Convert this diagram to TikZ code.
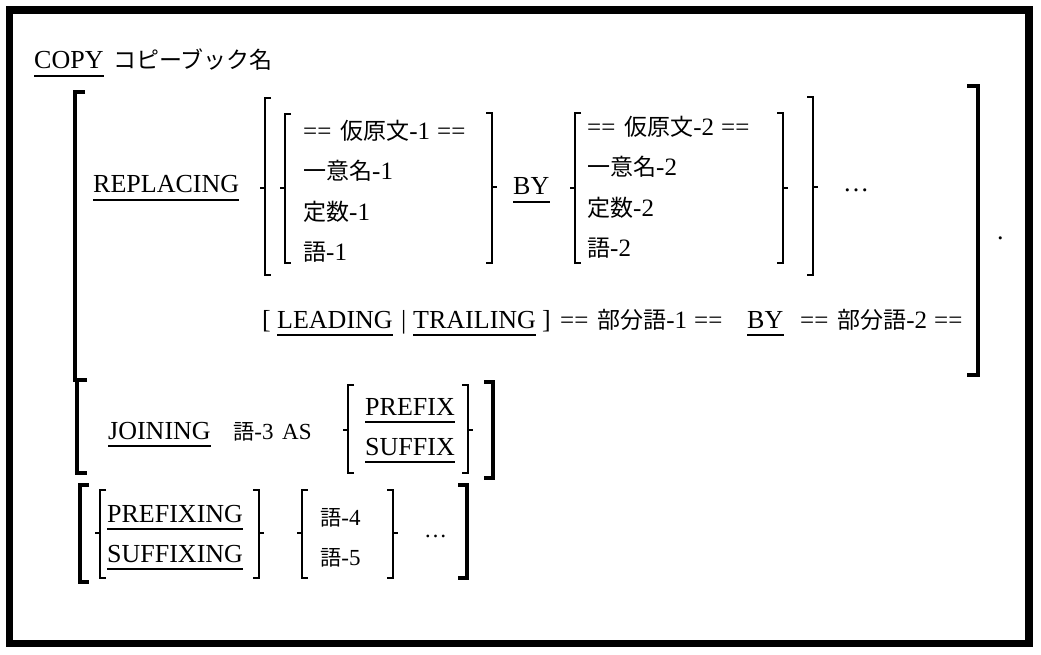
\documentclass[tikz,border=0pt]{standalone}
\usepackage{fontspec}
\setmainfont{Liberation Serif}
\newfontfamily\jpfont[Scale=0.92]{Noto Sans CJK JP}
\newcommand\J[1]{{\jpfont #1}}
\newcommand\LB[4]{\draw[brk] (#1+#4,#2) -- (#1,#2) -- (#1,#3) -- (#1+#4,#3);}
\newcommand\RB[4]{\draw[brk] (#1-#4,#2) -- (#1,#2) -- (#1,#3) -- (#1-#4,#3);}
\newcommand\LT[2]{\draw[brk] (#1,#2) -- (#1-5,#2);}
\newcommand\RT[2]{\draw[brk] (#1,#2) -- (#1+5,#2);}
\newcommand\UL[1]{\draw[ul] ([yshift=-7pt]#1.base west) -- ([yshift=-7pt]#1.base east);}
\newcommand\EQA{==\hspace{9pt}}
\newcommand\EQB{\hspace{7pt}==}
\tikzset{
  brk/.style={line width=2.6pt, line join=miter},
  lat/.style={inner sep=0pt, anchor=base west, font=\fontsize{26}{31}\selectfont},
  mix/.style={inner sep=0pt, anchor=base west, font=\fontsize{25}{30}\selectfont},
  sml/.style={inner sep=0pt, anchor=base west, font=\fontsize{23}{28}\selectfont},
  ul/.style={line width=1.3pt},
}
\begin{document}
\begin{tikzpicture}[x=1pt,y=-1pt]
\fill[white] (0,0) rectangle (1041,655);
\useasboundingbox (0,0) rectangle (1041,655);
\draw[line width=7.5pt] (9.5,10) rectangle (1029,643.5);

% COPY line
\node[lat] (copy) at (34,69) {COPY};
\UL{copy}
\node[mix] (cname) at (113,69) {\J{コピーブック名}};

% big outer brackets
\begin{scope}[brk/.append style={line width=3.2pt}]
\LB{75}{92}{380}{10}
\RB{978}{86}{375}{11}
\end{scope}

% REPLACING
\node[lat] (rep) at (93,193) {REPLACING};
\UL{rep}

% group brackets
\LB{265}{98}{275}{6}\LT{265}{188}
\LB{285}{114}{263}{6}\LT{285}{188}
\RB{492}{113}{263}{6}\RT{492}{187}
\LB{575}{113}{263}{6}\LT{575}{188}
\RB{783}{113}{263}{6}\RT{783}{188}
\RB{813}{97}{275}{6}\RT{813}{187}

\node[mix] (a1) at (303,140) {\EQA\J{仮原文}-1\EQB};
\node[mix] (a2) at (303,180) {\J{一意名}-1};
\node[mix] (a3) at (303,220) {\J{定数}-1};
\node[mix] (a4) at (303,260) {\J{語}-1};

\node[lat] (by1) at (513,195) {BY};
\UL{by1}

\node[mix] (b1) at (587,136) {\EQA\J{仮原文}-2\EQB};
\node[mix] (b2) at (587,176) {\J{一意名}-2};
\node[mix] (b3) at (587,216) {\J{定数}-2};
\node[mix] (b4) at (587,256) {\J{語}-2};

\node[lat] (dots1) at (843,192) {\dots};
\node[lat] (period) at (997,240) {.};

% LEADING / TRAILING row
\node[lat] (lsq) at (262,328) {[};
\node[lat] (lead) at (277,328) {LEADING};
\UL{lead}
\node[lat] (bar) at (401,328) {|};
\node[lat] (trail) at (413,328) {TRAILING};
\UL{trail}
\node[lat] (rsq) at (542,328) {]};
\node[mix] (s1) at (560,328) {\EQA\J{部分語}-1\EQB};
\node[lat] (by2) at (747,328) {BY};
\UL{by2}
\node[mix] (s2) at (800,328) {\EQA\J{部分語}-2\EQB};

% JOINING
\begin{scope}[brk/.append style={line width=3.2pt}]
\LB{77}{380}{473}{10}
\RB{493}{382}{478}{9}
\end{scope}
\node[lat] (join) at (108,439) {JOINING};
\UL{join}
\node[sml] (w3) at (233,439) {\J{語}-3};
\node[sml] (as) at (282,439) {AS};
\LB{348}{385}{473}{6}\LT{348}{430}
\RB{468}{385}{473}{6}\RT{468}{430}
\node[lat] (prefix) at (365,415) {PREFIX};
\UL{prefix}
\node[lat] (suffix) at (365,455) {SUFFIX};
\UL{suffix}

% PREFIXING / SUFFIXING
\begin{scope}[brk/.append style={line width=3.2pt}]
\LB{80}{485}{582}{9}
\RB{467}{485}{578}{9}
\end{scope}
\LB{100}{490}{578}{6}\LT{100}{533}
\RB{259}{490}{578}{6}\RT{259}{533}
\node[lat] (pfx) at (107,522) {PREFIXING};
\UL{pfx}
\node[lat] (sfx) at (107,562) {SUFFIXING};
\UL{sfx}
\LB{302}{490}{578}{6}\LT{302}{533}
\RB{393}{490}{578}{6}\RT{393}{533}
\node[sml] (w4) at (320,525) {\J{語}-4};
\node[sml] (w5) at (320,565) {\J{語}-5};
\node[sml] (dots2) at (424,537) {\dots};
\end{tikzpicture}
\end{document}
